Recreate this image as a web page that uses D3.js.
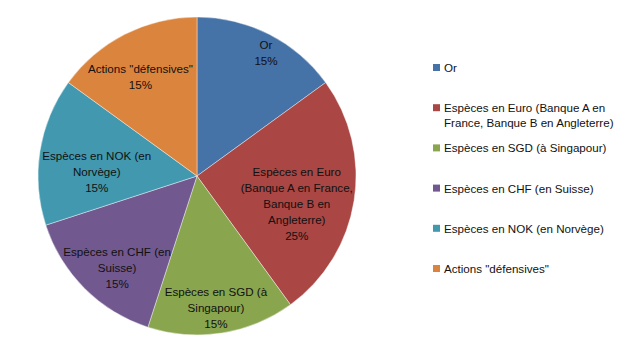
<!DOCTYPE html>
<html><head><meta charset="utf-8">
<script src="https://cdn.jsdelivr.net/npm/d3@7"></script>
<style>
body{margin:0;background:#fff}
text{font-family:"Liberation Sans",Arial,sans-serif;font-size:11.6px;fill:#111}
</style></head>
<body><svg id="c" width="628" height="354"></svg>
<script>
const categories = ["Or", "Espèces en Euro (Banque A en France, Banque B en Angleterre)", "Espèces en SGD (à Singapour)", "Espèces en CHF (en Suisse)", "Espèces en NOK (en Norvège)", 'Actions "défensives"'];
const values = [15, 25, 15, 15, 15, 15];
const sliceLabelLines = [["Or"], ["Espèces en Euro", "(Banque A en France,", "Banque B en", "Angleterre)"], ["Espèces en SGD (à", "Singapour)"], ["Espèces en CHF (en", "Suisse)"], ["Espèces en NOK (en", "Norvège)"], ['Actions "défensives"']];
const legendLines = [["Or"], ["Espèces en Euro (Banque A en", "France, Banque B en Angleterre)"], ["Espèces en SGD (à Singapour)"], ["Espèces en CHF (en Suisse)"], ["Espèces en NOK (en Norvège)"], ['Actions "défensives"']];
const colors = ["#4572A7", "#AA4643", "#89A54E", "#71588F", "#4198AF", "#DB843D"];

const svg = d3.select("#c");
const cx = 197, cy = 176, r = 159, lineH = 16, shift = 12, pad = 2;
const color = d3.scaleOrdinal().domain(categories).range(colors);
const total = d3.sum(values);
const data = categories.map((c, i) => ({cat: c, value: values[i], lines: sliceLabelLines[i].concat([Math.round(values[i] / total * 100) + "%"])}));
const arcs = d3.pie().sort(null).value(d => d.value)(data);
const arc = d3.arc().innerRadius(0).outerRadius(r);
const g = svg.append("g").attr("transform", `translate(${cx},${cy})`);
g.selectAll("path").data(arcs).join("path")
  .attr("d", arc).attr("fill", d => color(d.data.cat))
  .attr("stroke", "rgba(255,255,255,0.55)").attr("stroke-width", 0.75);

// labels: pushed out along the mid-angle as far as every text line fits inside the circle
const lg = g.append("g");
arcs.forEach(a => {
  const n = a.data.lines.length;
  const t = lg.append("text").attr("text-anchor", "middle");
  const spans = a.data.lines.map((l, i) => t.append("tspan").attr("x", 0).attr("y", i * lineH).text(l));
  const widths = spans.map(s => s.node().getComputedTextLength());
  const m = (a.startAngle + a.endAngle) / 2;
  const sx = Math.sin(m), sy = -Math.cos(m);
  let best = 0;
  for (let d = 0; d < r; d += 0.5) {
    const px = d * sx, py = d * sy + shift;
    const ok = widths.every((w, i) => {
      const ly = py + (i - (n - 1) / 2) * lineH;
      return [[-1,-1],[1,-1],[-1,1],[1,1]].every(([kx, ky]) => Math.hypot(px + kx * w / 2, ly + ky * 6) <= r - pad);
    });
    if (ok) best = d; else break;
  }
  const px = best * sx, py = best * sy + shift;
  const top = py - (n - 1) * lineH / 2;
  t.attr("transform", `translate(${px},${top + 4})`);
});

// legend
const legY = d3.scalePoint().domain(categories).range([68, 269]);
const leg = svg.append("g");
categories.forEach((c, i) => {
  const y = legY(c);
  leg.append("rect").attr("x", 433).attr("y", y - 4).attr("width", 7).attr("height", 7).attr("fill", color(c));
  const t = leg.append("text");
  legendLines[i].forEach((l, j) => t.append("tspan").attr("x", 444).attr("y", y + 4 + j * 15).text(l));
});
</script></body></html>
